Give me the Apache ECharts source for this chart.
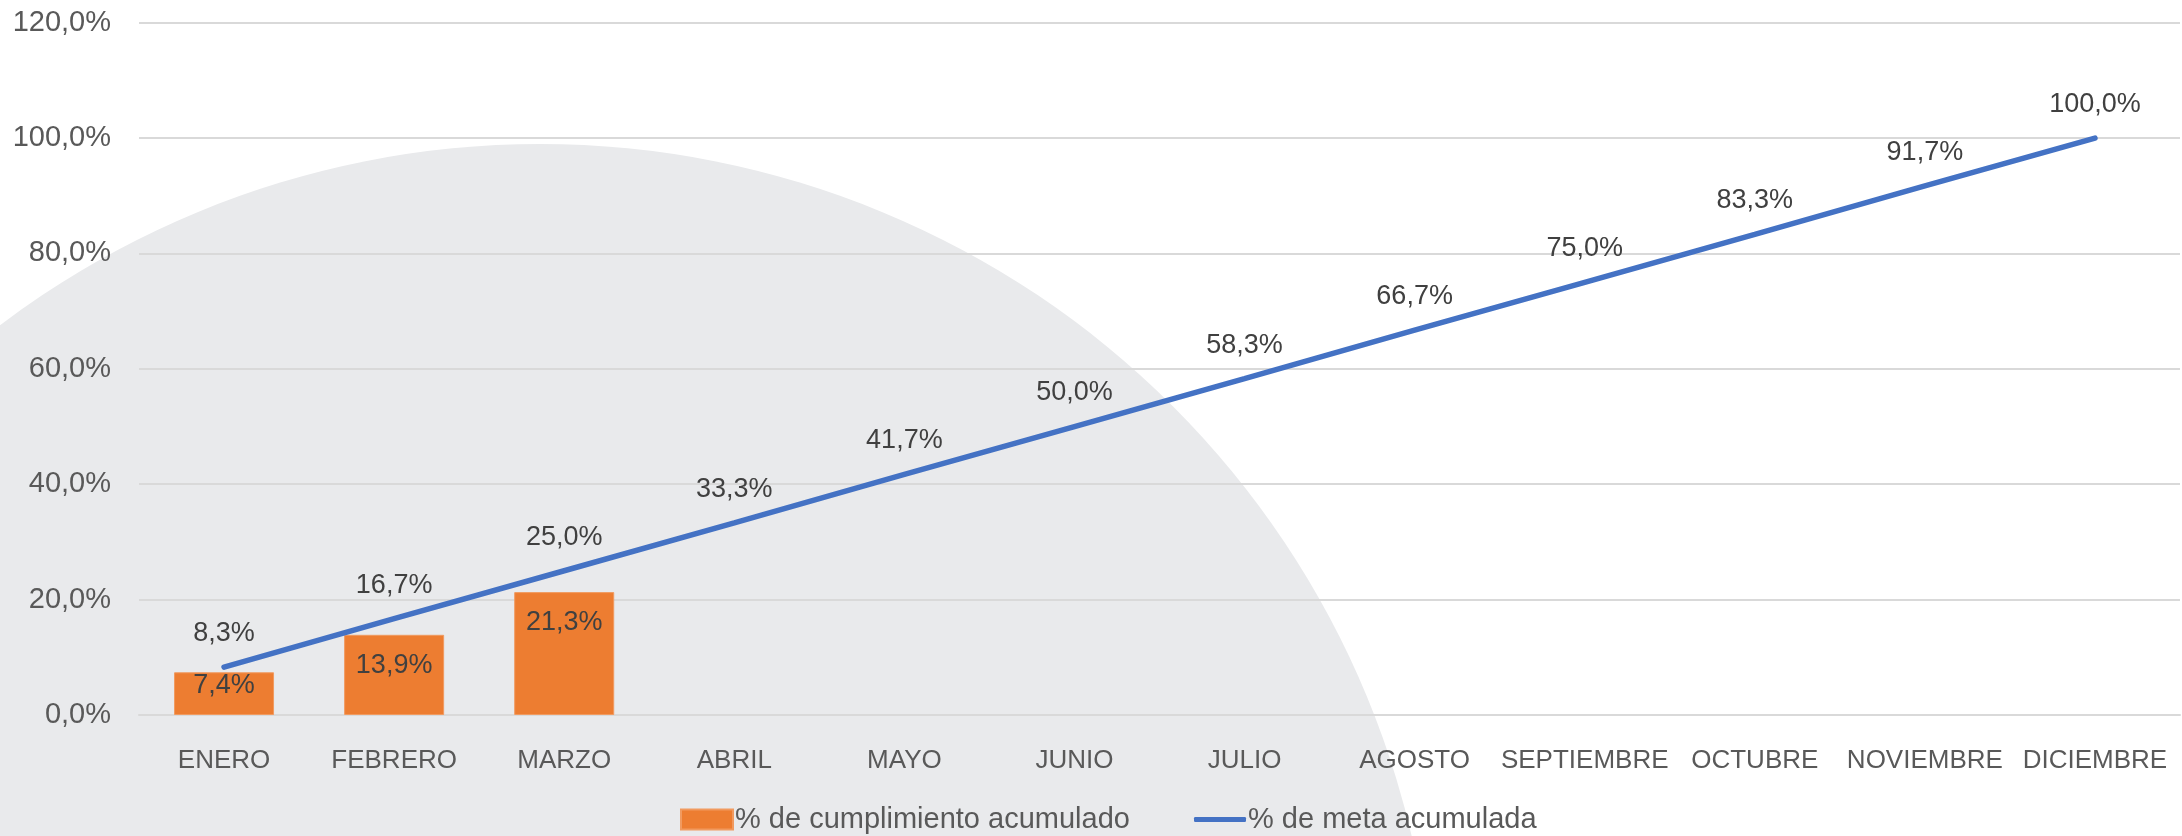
<!DOCTYPE html>
<html>
<head>
<meta charset="utf-8">
<script src="https://cdn.jsdelivr.net/npm/echarts@6/dist/echarts.min.js"></script>
<style>
html,body{margin:0;padding:0;background:#fff;}
#chart{width:2182px;height:836px;}
</style>
</head>
<body>
<div id="chart"></div>
<script>
var categories = ['ENERO','FEBRERO','MARZO','ABRIL','MAYO','JUNIO','JULIO','AGOSTO','SEPTIEMBRE','OCTUBRE','NOVIEMBRE','DICIEMBRE'];
var cumplimiento = [7.4, 13.9, 21.3, null, null, null, null, null, null, null, null, null];
var meta = [8.3, 16.7, 25.0, 33.3, 41.7, 50.0, 58.3, 66.7, 75.0, 83.3, 91.7, 100.0];
var yTicks = {min: 0, max: 120, interval: 20};
var seriesNames = ['% de cumplimiento acumulado', '% de meta acumulada'];

function pct(v){ return v.toFixed(1).replace('.', ',') + '%'; }

var FONT = '"Liberation Sans", Arial, sans-serif';
var chart = echarts.init(document.getElementById('chart'), null, {renderer:'canvas'});
chart.setOption({
  backgroundColor: '#ffffff',
  animation: false,
  graphic: [{
    type: 'circle', silent: true, z: -10, zlevel: 0,
    shape: {cx: 540, cy: 1039, r: 895},
    style: {fill: '#e9eaec'}
  }],
  grid: {left: 139, right: 2, top: 22.7, bottom: 121, containLabel: false},
  legend: [{
    left: 675, top: 800,
    itemWidth: 52, itemHeight: 20,
    textStyle: {fontFamily: FONT, fontSize: 29, color: '#595959', padding: [0,0,0,-3]},
    data: [{name: seriesNames[0], icon: 'rect'}]
  }, {
    left: 1189, top: 800,
    itemWidth: 52, itemHeight: 5,
    textStyle: {fontFamily: FONT, fontSize: 29, color: '#595959', padding: [0,0,0,-3]},
    data: [{name: seriesNames[1], icon: 'roundRect'}]
  }],
  xAxis: {
    type: 'category', data: categories,
    axisLine: {show: true, lineStyle: {color: '#d9d9d9', width: 2}},
    axisTick: {show: false},
    axisLabel: {fontFamily: FONT, fontSize: 26, color: '#595959', margin: 33, interval: 0}
  },
  yAxis: {
    type: 'value', min: yTicks.min, max: yTicks.max, interval: yTicks.interval,
    axisLine: {show: false}, axisTick: {show: false},
    splitLine: {lineStyle: {color: '#d9d9d9', width: 2}},
    axisLabel: {fontFamily: FONT, fontSize: 29, color: '#595959', margin: 28,
      formatter: function(v){ return pct(v); }}
  },
  series: [{
    name: seriesNames[0], type: 'bar', data: cumplimiento.map(function(v, i){
      return {value: v, label: {distance: i === 0 ? 0 : 17}};
    }),
    barWidth: 100,
    itemStyle: {color: '#ed7d31', borderColor: '#f19a5f', borderWidth: 1},
    label: {show: true, position: 'insideTop', fontFamily: FONT, fontSize: 27, color: '#404040',
      formatter: function(p){ return p.value == null ? '' : pct(p.value); }}
  }, {
    name: seriesNames[1], type: 'line', data: meta,
    symbol: 'circle', symbolSize: 0.01, showSymbol: true,
    lineStyle: {color: '#4472c4', width: 5.5, cap: 'round'},
    itemStyle: {color: '#4472c4'},
    label: {show: true, position: 'top', distance: 20, fontFamily: FONT, fontSize: 27, color: '#404040',
      formatter: function(p){ return pct(p.value); }},
    z: 3
  }]
});
</script>
</body>
</html>
